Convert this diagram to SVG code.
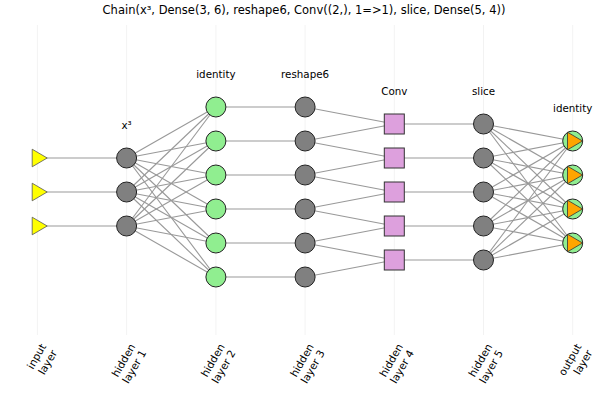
<svg xmlns="http://www.w3.org/2000/svg" width="600" height="400" viewBox="0 0 600 400">
<style>
  text { font-family: "DejaVu Sans", "Liberation Sans", sans-serif; fill: #000; }
  .title { font-size: 11.5px; text-anchor: middle; }
  .ann { font-size: 10.3px; text-anchor: middle; }
  .tick { font-size: 10.5px; text-anchor: end; }
  .grid line { stroke: #000; stroke-opacity: 0.1; stroke-width: 0.5; }
  .edges line { stroke: #999; stroke-width: 1.1; }
  .gray { fill: #808080; stroke: #222; stroke-width: 1; }
  .green { fill: #90EE90; stroke: #222; stroke-width: 1; }
  .plum { fill: #DDA0DD; stroke: #333; stroke-width: 1; }
  .tri-y { fill: #FFFF00; stroke: #555; stroke-width: 0.8; }
  .tri-o { fill: #FFA500; stroke: #333; stroke-width: 0.8; }
</style>
<defs>
  <path id="tri" d="M-5.2,-8.8 L-5.2,8.8 L9.8,0 Z"/>
  <rect id="sq" x="-10" y="-10" width="20" height="20"/>
</defs>
<rect width="600" height="400" fill="#fff"/>
<text class="title" x="304" y="14">Chain(x³, Dense(3, 6), reshape6, Conv((2,), 1=&gt;1), slice, Dense(5, 4))</text>
<g class="grid">
  <line x1="37.4" y1="25" x2="37.4" y2="335"/>
  <line x1="126.6" y1="25" x2="126.6" y2="335"/>
  <line x1="215.9" y1="25" x2="215.9" y2="335"/>
  <line x1="305.1" y1="25" x2="305.1" y2="335"/>
  <line x1="394.3" y1="25" x2="394.3" y2="335"/>
  <line x1="483.5" y1="25" x2="483.5" y2="335"/>
  <line x1="572.7" y1="25" x2="572.7" y2="335"/>
</g>
<g id="connectors" class="edges">
  <line x1="37.4" y1="158" x2="126.6" y2="158"/>
  <line x1="37.4" y1="192" x2="126.6" y2="192"/>
  <line x1="37.4" y1="226" x2="126.6" y2="226"/>

  <line x1="126.6" y1="158" x2="215.9" y2="107"/>
  <line x1="126.6" y1="158" x2="215.9" y2="141"/>
  <line x1="126.6" y1="158" x2="215.9" y2="175"/>
  <line x1="126.6" y1="158" x2="215.9" y2="209"/>
  <line x1="126.6" y1="158" x2="215.9" y2="243"/>
  <line x1="126.6" y1="158" x2="215.9" y2="277"/>
  <line x1="126.6" y1="192" x2="215.9" y2="107"/>
  <line x1="126.6" y1="192" x2="215.9" y2="141"/>
  <line x1="126.6" y1="192" x2="215.9" y2="175"/>
  <line x1="126.6" y1="192" x2="215.9" y2="209"/>
  <line x1="126.6" y1="192" x2="215.9" y2="243"/>
  <line x1="126.6" y1="192" x2="215.9" y2="277"/>
  <line x1="126.6" y1="226" x2="215.9" y2="107"/>
  <line x1="126.6" y1="226" x2="215.9" y2="141"/>
  <line x1="126.6" y1="226" x2="215.9" y2="175"/>
  <line x1="126.6" y1="226" x2="215.9" y2="209"/>
  <line x1="126.6" y1="226" x2="215.9" y2="243"/>
  <line x1="126.6" y1="226" x2="215.9" y2="277"/>

  <line x1="215.9" y1="107" x2="305.1" y2="107"/>
  <line x1="215.9" y1="141" x2="305.1" y2="141"/>
  <line x1="215.9" y1="175" x2="305.1" y2="175"/>
  <line x1="215.9" y1="209" x2="305.1" y2="209"/>
  <line x1="215.9" y1="243" x2="305.1" y2="243"/>
  <line x1="215.9" y1="277" x2="305.1" y2="277"/>

  <line x1="305.1" y1="107" x2="394.3" y2="124"/>
  <line x1="305.1" y1="141" x2="394.3" y2="124"/>
  <line x1="305.1" y1="141" x2="394.3" y2="158"/>
  <line x1="305.1" y1="175" x2="394.3" y2="158"/>
  <line x1="305.1" y1="175" x2="394.3" y2="192"/>
  <line x1="305.1" y1="209" x2="394.3" y2="192"/>
  <line x1="305.1" y1="209" x2="394.3" y2="226"/>
  <line x1="305.1" y1="243" x2="394.3" y2="226"/>
  <line x1="305.1" y1="243" x2="394.3" y2="260"/>
  <line x1="305.1" y1="277" x2="394.3" y2="260"/>

  <line x1="394.3" y1="124" x2="483.5" y2="124"/>
  <line x1="394.3" y1="158" x2="483.5" y2="158"/>
  <line x1="394.3" y1="192" x2="483.5" y2="192"/>
  <line x1="394.3" y1="226" x2="483.5" y2="226"/>
  <line x1="394.3" y1="260" x2="483.5" y2="260"/>

  <line x1="483.5" y1="124" x2="572.7" y2="141"/>
  <line x1="483.5" y1="124" x2="572.7" y2="175"/>
  <line x1="483.5" y1="124" x2="572.7" y2="209"/>
  <line x1="483.5" y1="124" x2="572.7" y2="243"/>
  <line x1="483.5" y1="158" x2="572.7" y2="141"/>
  <line x1="483.5" y1="158" x2="572.7" y2="175"/>
  <line x1="483.5" y1="158" x2="572.7" y2="209"/>
  <line x1="483.5" y1="158" x2="572.7" y2="243"/>
  <line x1="483.5" y1="192" x2="572.7" y2="141"/>
  <line x1="483.5" y1="192" x2="572.7" y2="175"/>
  <line x1="483.5" y1="192" x2="572.7" y2="209"/>
  <line x1="483.5" y1="192" x2="572.7" y2="243"/>
  <line x1="483.5" y1="226" x2="572.7" y2="141"/>
  <line x1="483.5" y1="226" x2="572.7" y2="175"/>
  <line x1="483.5" y1="226" x2="572.7" y2="209"/>
  <line x1="483.5" y1="226" x2="572.7" y2="243"/>
  <line x1="483.5" y1="260" x2="572.7" y2="141"/>
  <line x1="483.5" y1="260" x2="572.7" y2="175"/>
  <line x1="483.5" y1="260" x2="572.7" y2="209"/>
  <line x1="483.5" y1="260" x2="572.7" y2="243"/>
</g>

<g id="input-layer">
  <g id="in1"><use href="#tri" class="tri-y" x="37.4" y="158"/></g>
  <g id="in2"><use href="#tri" class="tri-y" x="37.4" y="192"/></g>
  <g id="in3"><use href="#tri" class="tri-y" x="37.4" y="226"/></g>
</g>
<g id="hidden-layer-1">
  <text class="ann" x="126.6" y="128.5">x³</text>
  <g id="h1-1"><circle class="gray" cx="126.6" cy="158" r="10"/></g>
  <g id="h1-2"><circle class="gray" cx="126.6" cy="192" r="10"/></g>
  <g id="h1-3"><circle class="gray" cx="126.6" cy="226" r="10"/></g>
</g>
<g id="hidden-layer-2">
  <text class="ann" x="215.9" y="77.5">identity</text>
  <g id="h2-1"><circle class="green" cx="215.9" cy="107" r="10"/></g>
  <g id="h2-2"><circle class="green" cx="215.9" cy="141" r="10"/></g>
  <g id="h2-3"><circle class="green" cx="215.9" cy="175" r="10"/></g>
  <g id="h2-4"><circle class="green" cx="215.9" cy="209" r="10"/></g>
  <g id="h2-5"><circle class="green" cx="215.9" cy="243" r="10"/></g>
  <g id="h2-6"><circle class="green" cx="215.9" cy="277" r="10"/></g>
</g>
<g id="hidden-layer-3">
  <text class="ann" x="305.1" y="77.5">reshape6</text>
  <g id="h3-1"><circle class="gray" cx="305.1" cy="107" r="10"/></g>
  <g id="h3-2"><circle class="gray" cx="305.1" cy="141" r="10"/></g>
  <g id="h3-3"><circle class="gray" cx="305.1" cy="175" r="10"/></g>
  <g id="h3-4"><circle class="gray" cx="305.1" cy="209" r="10"/></g>
  <g id="h3-5"><circle class="gray" cx="305.1" cy="243" r="10"/></g>
  <g id="h3-6"><circle class="gray" cx="305.1" cy="277" r="10"/></g>
</g>
<g id="hidden-layer-4">
  <text class="ann" x="394.3" y="95">Conv</text>
  <g id="h4-1"><use href="#sq" class="plum" x="394.3" y="124"/></g>
  <g id="h4-2"><use href="#sq" class="plum" x="394.3" y="158"/></g>
  <g id="h4-3"><use href="#sq" class="plum" x="394.3" y="192"/></g>
  <g id="h4-4"><use href="#sq" class="plum" x="394.3" y="226"/></g>
  <g id="h4-5"><use href="#sq" class="plum" x="394.3" y="260"/></g>
</g>
<g id="hidden-layer-5">
  <text class="ann" x="483.5" y="95">slice</text>
  <g id="h5-1"><circle class="gray" cx="483.5" cy="124" r="10"/></g>
  <g id="h5-2"><circle class="gray" cx="483.5" cy="158" r="10"/></g>
  <g id="h5-3"><circle class="gray" cx="483.5" cy="192" r="10"/></g>
  <g id="h5-4"><circle class="gray" cx="483.5" cy="226" r="10"/></g>
  <g id="h5-5"><circle class="gray" cx="483.5" cy="260" r="10"/></g>
</g>
<g id="output-layer">
  <text class="ann" x="572.7" y="112">identity</text>
  <g id="out1"><circle class="green" cx="572.7" cy="141" r="10"/><use href="#tri" class="tri-o" x="572.7" y="141"/></g>
  <g id="out2"><circle class="green" cx="572.7" cy="175" r="10"/><use href="#tri" class="tri-o" x="572.7" y="175"/></g>
  <g id="out3"><circle class="green" cx="572.7" cy="209" r="10"/><use href="#tri" class="tri-o" x="572.7" y="209"/></g>
  <g id="out4"><circle class="green" cx="572.7" cy="243" r="10"/><use href="#tri" class="tri-o" x="572.7" y="243"/></g>
</g>

<g id="axis-labels">
  <text class="tick" transform="translate(49.1,348) rotate(-60)"><tspan x="0" y="-3">input</tspan><tspan x="0" y="9.5">layer</tspan></text>
  <text class="tick" transform="translate(138.3,348) rotate(-60)"><tspan x="0" y="-3">hidden</tspan><tspan x="0" y="9.5">layer 1</tspan></text>
  <text class="tick" transform="translate(227.6,348) rotate(-60)"><tspan x="0" y="-3">hidden</tspan><tspan x="0" y="9.5">layer 2</tspan></text>
  <text class="tick" transform="translate(316.8,348) rotate(-60)"><tspan x="0" y="-3">hidden</tspan><tspan x="0" y="9.5">layer 3</tspan></text>
  <text class="tick" transform="translate(406,348) rotate(-60)"><tspan x="0" y="-3">hidden</tspan><tspan x="0" y="9.5">layer 4</tspan></text>
  <text class="tick" transform="translate(495.2,348) rotate(-60)"><tspan x="0" y="-3">hidden</tspan><tspan x="0" y="9.5">layer 5</tspan></text>
  <text class="tick" transform="translate(584.4,348) rotate(-60)"><tspan x="0" y="-3">output</tspan><tspan x="0" y="9.5">layer</tspan></text>
</g>
</svg>
